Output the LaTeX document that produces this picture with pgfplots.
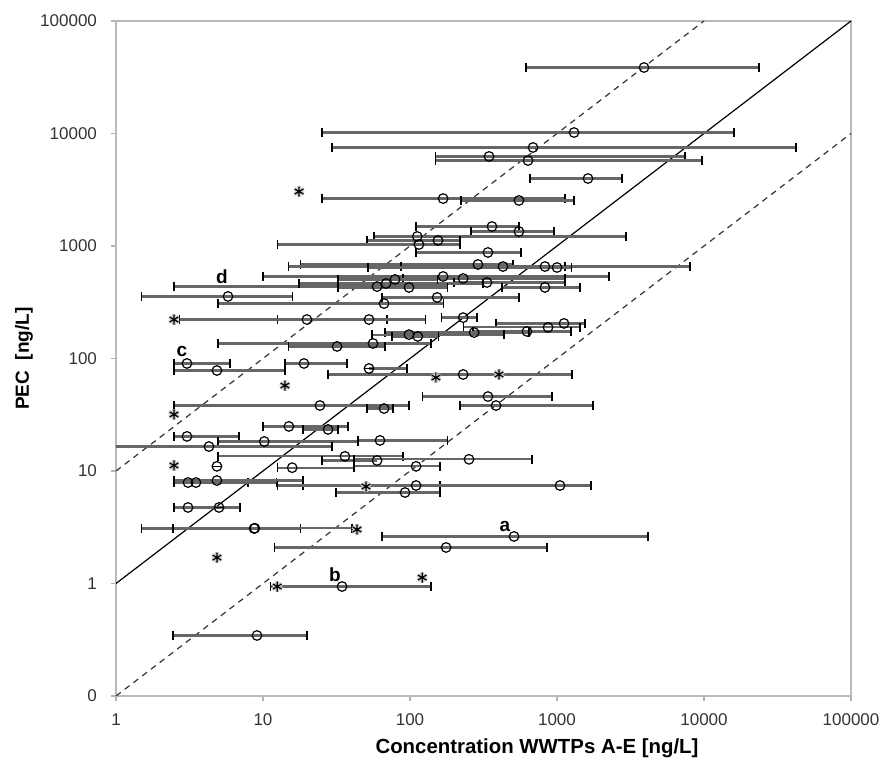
\documentclass[border=0pt]{standalone}
\usepackage{fontspec}
\setmainfont{Liberation Sans}
\usepackage{pgfplots}
\usepackage{pgfplotstable}
\pgfplotsset{compat=1.18}

% measured concentration (x, with min-max range) vs PEC (y)
\pgfplotstableread{
x y lo hi
3908 38600 615 23700
1306 10200 25.2 16000
687 7510 29.5 42300
345 6250 150 7430
635 5750 150 9690
1625 3980 655 2769
168 2640 25.2 1134
551 2540 222 1306
361 1490 110 551
551 1345 260 955
112 1215 56.9 2945
155 1120 51.0 219
115 1031 12.5 219
339 876 110 569
290 685 17.9 502
429 657 15.0 8030
828 657 86.9 1134
1000 644 51.8 1250
168 536 10.0 2259
230 514 89.6 1134
334 474 199 1134
59.7 436 2.48 181
68.7 464 17.6 314
79.1 504 32.4 153
98.4 428 32.4 181
828 428 423 1433
5.78 356 1.50 15.8
153 349 64.5 551
66.6 308 4.94 168
19.9 222 12.5 69.8
52.6 222 2.72 128
230 231 163 286
1116 205 385 1550
869 189 230 1433
625 174 268 1245
273 170 67.6 645
98.4 163 55.1 436
113 157 75.4 157
56.0 136 4.94 139
31.9 128 15.0 67.6
3.04 90.3 2.48 5.97
4.86 78.2 2.48 14.1
19.0 90.3 14.1 37.3
52.6 81.5 52.6 95.4
230 72.1 27.7 1265
339 45.9 121 925
24.4 38.2 2.48 98.4
66.6 35.9 51.0 76.6
385 38.2 219 1757
15.0 24.9 10.0 37.9
27.7 23.4 18.7 32.4
3.04 20.3 2.48 6.87
10.2 18.3 4.94 44.3
62.5 18.7 44.3 179
4.29 16.5 0.5 29.5
36.1 13.5 4.94 89.6
59.7 12.4 25.2 41.6
252 12.7 41.6 676
4.86 11.0 4.86 4.86
15.8 10.7 12.5 41.6
110 11.0 41.6 160
3.09 7.90 2.48 7.91
3.50 7.90 2.48 12.3
4.86 8.23 2.48 18.7
110 7.43 18.7 160
92.5 6.44 31.4 160
1048 7.43 12.6 1703
3.09 4.74 2.48 6.98
5.02 4.74 5.02 5.02
8.69 3.08 1.50 17.9
8.8 3.1 2.44 40.3
510 2.62 64.5 4160
176 2.09 11.9 855
34.5 0.94 11.3 139
9.10 0.345 2.44 19.9
}\circles

\pgfplotstableread{
x y
17.6 3050
2.48 222
14.1 57.5
150 67.8
403 72.1
2.48 31.8
2.48 11.2
50.2 7.28
43.6 3.02
4.86 1.70
12.5 0.94
121 1.13
}\stars

\begin{document}
\begin{tikzpicture}
\begin{axis}[
  scale only axis,
  width=367.5pt, height=337.5pt,
  xmode=log, ymode=log,
  xmin=1, xmax=100000, ymin=0.1, ymax=100000,
  xtick={1,10,100,1000,10000,100000},
  xticklabels={1,10,100,1000,10000,100000},
  ytick={0.1,1,10,100,1000,10000,100000},
  yticklabels={0,1,10,100,1000,10000,100000},
  xminorticks=false, yminorticks=false,
  xtick pos=lower, ytick pos=left,
  tick align=outside, major tick length=2.5pt,
  axis line style={draw=gray!55, line width=1pt},
  tick style={draw=gray!60, line width=0.7pt},
  ticklabel style={font=\fontsize{8.5}{9}\selectfont, text=black!80},
  xticklabel style={yshift=-3pt},
  yticklabel style={xshift=-3.5pt},
]
% reference lines 1:1 and factor 10
\addplot[black, line width=0.6pt] coordinates {(1,1) (100000,100000)};
\addplot[gray!40!black, line width=0.6pt, dash pattern=on 3pt off 2.5pt] coordinates {(1,10) (10000,100000)};
\addplot[gray!40!black, line width=0.6pt, dash pattern=on 3pt off 2.5pt] coordinates {(1,0.1) (100000,10000)};

\addplot[only marks, mark=o, mark size=2.4pt, mark options={black, line width=0.6pt},
  error bars/.cd, x dir=both, x explicit,
  error bar style={draw=black!60, line width=1.1pt},
  error mark=|,
  error mark options={draw=black, line width=0.6pt, mark size=2.2pt}]
  table[x=x, y=y,
        x error plus expr=\thisrow{hi}-\thisrow{x},
        x error minus expr=\thisrow{x}-\thisrow{lo}] {\circles};

\addplot[only marks, mark=asterisk, mark size=2.7pt, mark options={draw=black!22, line width=1.8pt}]
  table[x=x, y=y] {\stars};
\addplot[only marks, mark=asterisk, mark size=2.5pt, mark options={draw=black, line width=0.6pt}]
  table[x=x, y=y] {\stars};

\node[font=\fontsize{9.5}{10}\selectfont\bfseries] at (axis cs:443,3.21) {a};
\node[font=\fontsize{9.5}{10}\selectfont\bfseries] at (axis cs:30.9,1.20) {b};
\node[font=\fontsize{9.5}{10}\selectfont\bfseries] at (axis cs:2.81,115) {c};
\node[font=\fontsize{9.5}{10}\selectfont\bfseries] at (axis cs:5.26,536) {d};
\end{axis}
\node[rotate=90, font=\fontsize{9.5}{10}\selectfont\bfseries] at (-46pt,168.75pt) {PEC\ \ [ng/L]};
\node[font=\fontsize{10.2}{11}\selectfont\bfseries] at (210.5pt,-26pt) {Concentration WWTPs A-E [ng/L]};
\pgfresetboundingbox
\path[use as bounding box] (-58pt,-34pt) rectangle (383.5pt,348pt);
\end{tikzpicture}
\end{document}
